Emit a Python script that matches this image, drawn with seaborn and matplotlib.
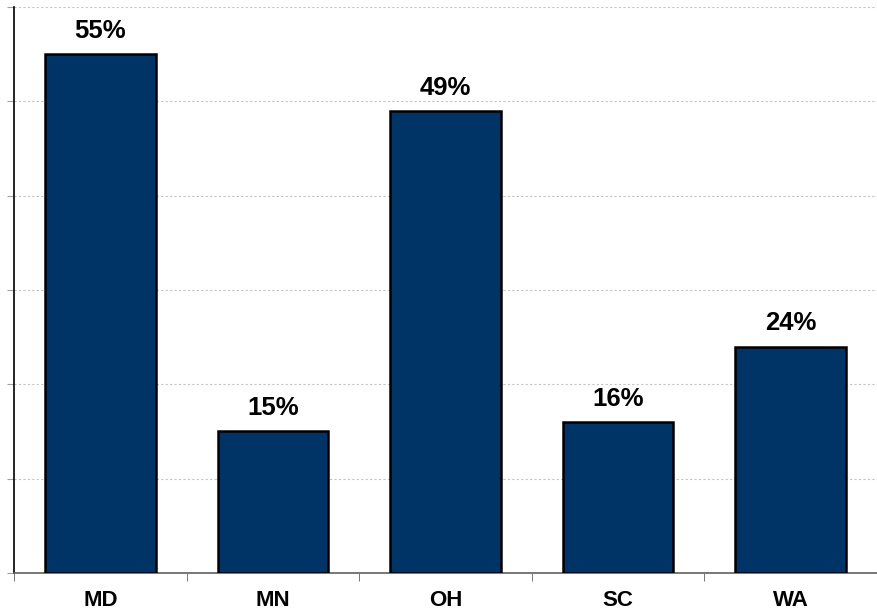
import numpy as np
import pandas as pd
import matplotlib
matplotlib.use("Agg")
import matplotlib.pyplot as plt
import seaborn as sns

# Chart data
states = ["MD", "MN", "OH", "SC", "WA"]
shares = [55, 15, 49, 16, 24]

df = pd.DataFrame({"state": states, "share": shares})

sns.set_style("white")
plt.rcParams["font.family"] = ["Liberation Sans", "DejaVu Sans"]

fig = plt.figure(figsize=(8.77, 6.12), dpi=100)
ax = fig.add_axes([0.016, 0.0637, 0.984, 0.925])

sns.barplot(data=df, x="state", y="share", color="#003366", saturation=1,
            width=0.64, edgecolor="black", linewidth=1.8, ax=ax, zorder=3)

# value labels above bars
for i, v in enumerate(shares):
    ax.annotate(f"{v}%", (i, v), xytext=(0, 8), textcoords="offset points",
                ha="center", va="bottom", fontsize=18.5, fontweight="bold",
                color="black")

ax.set_ylim(0, 60)
ax.set_xlim(-0.5, len(states) - 0.5)
ax.set_yticks(np.arange(0, 61, 10))
ax.set_yticklabels([])
ax.yaxis.grid(True, linestyle=(0, (2, 2)), color="#c4c4c4", linewidth=0.8, zorder=0)

# tick marks between categories
ax.set_xticks(np.arange(len(states)))
ax.set_xticklabels(states, fontsize=16, fontweight="bold", color="black")
ax.set_xticks(np.arange(len(states) + 1) - 0.5, minor=True)
ax.tick_params(axis="x", which="major", length=0, pad=12)
ax.tick_params(axis="x", which="minor", length=6, color="#606060", direction="out", bottom=True)
ax.tick_params(axis="y", length=5, color="#a0a0a0", direction="out", left=True)

ax.set_xlabel("")
ax.set_ylabel("")
for side in ["top", "right"]:
    ax.spines[side].set_visible(False)
ax.spines["left"].set_color("black")
ax.spines["left"].set_linewidth(1.2)
ax.spines["bottom"].set_color("#606060")
ax.spines["bottom"].set_linewidth(1.2)

fig.savefig("out.png", dpi=100)
